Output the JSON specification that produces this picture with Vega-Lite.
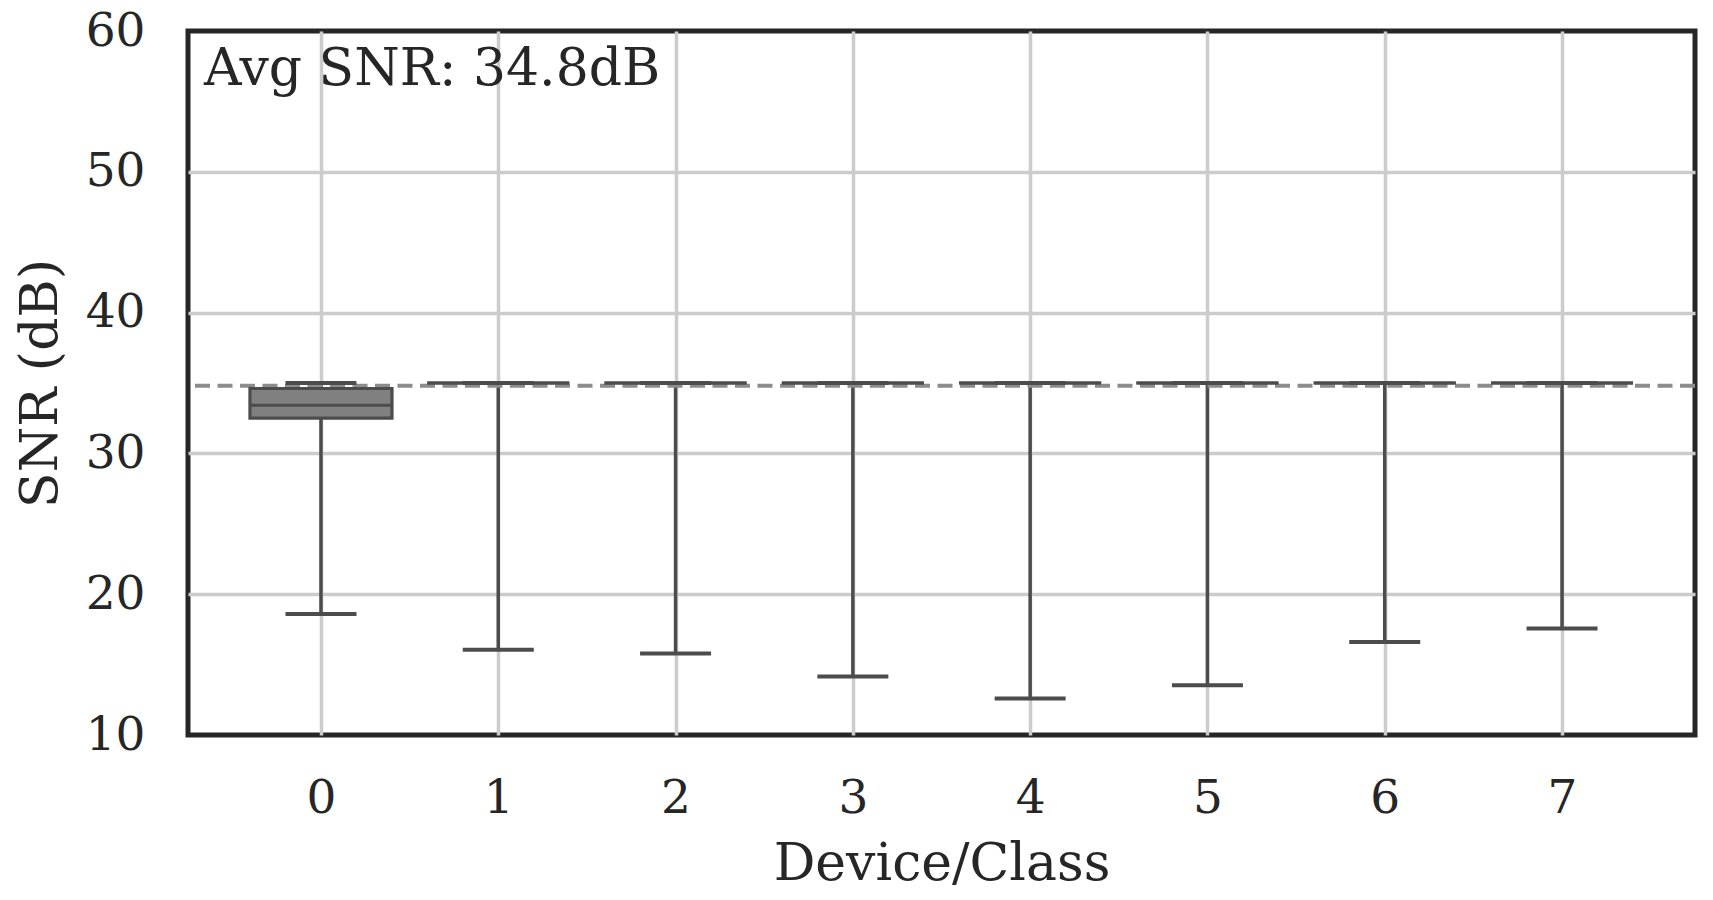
{
  "$schema": "https://vega.github.io/schema/vega-lite/v6.json",
  "width": 1507,
  "height": 704,
  "autosize": {"type": "none"},
  "padding": {"left": 188, "top": 31, "right": 18, "bottom": 165},
  "background": "white",
  "config": {
    "font": "DejaVu Serif",
    "view": {"stroke": "#262626", "strokeWidth": 5},
    "axis": {
      "grid": true,
      "gridColor": "#cccccc",
      "gridWidth": 3.5,
      "domain": false,
      "ticks": false,
      "tickSize": 0,
      "labelFont": "DejaVu Serif",
      "labelFontSize": 47,
      "labelColor": "#262626",
      "titleFont": "DejaVu Serif",
      "titleFontSize": 52,
      "titleFontWeight": "normal",
      "titleColor": "#262626"
    }
  },
  "datasets": {
    "stats": [
      {"device": "0", "min": 18.59, "q1": 32.5, "median": 33.42, "q3": 34.61, "max": 35.0},
      {"device": "1", "min": 16.06, "q1": 35.0, "median": 35.0, "q3": 35.0, "max": 35.0},
      {"device": "2", "min": 15.79, "q1": 35.0, "median": 35.0, "q3": 35.0, "max": 35.0},
      {"device": "3", "min": 14.16, "q1": 35.0, "median": 35.0, "q3": 35.0, "max": 35.0},
      {"device": "4", "min": 12.6, "q1": 35.0, "median": 35.0, "q3": 35.0, "max": 35.0},
      {"device": "5", "min": 13.54, "q1": 35.0, "median": 35.0, "q3": 35.0, "max": 35.0},
      {"device": "6", "min": 16.6, "q1": 35.0, "median": 35.0, "q3": 35.0, "max": 35.0},
      {"device": "7", "min": 17.57, "q1": 35.0, "median": 35.0, "q3": 35.0, "max": 35.0}
    ],
    "avg": [{"avg": 34.8, "label": "Avg SNR: 34.8dB", "xpos": 0.0106, "ypos": 56.17}]
  },
  "layer": [
    {
      "layer": [
        {
          "data": {"name": "stats"},
          "mark": {"type": "rule", "color": "#4c4c4c", "strokeWidth": 3.5},
          "encoding": {
            "x": {
              "field": "device",
              "type": "ordinal",
              "scale": {"type": "point", "padding": 0.75},
              "axis": {"labelAngle": 0, "title": "Device/Class", "labelPadding": 40, "titlePadding": 17}
            },
            "y": {
              "field": "min",
              "type": "quantitative",
              "scale": {"domain": [10, 60], "nice": false, "zero": false},
              "axis": {
                "values": [10, 20, 30, 40, 50, 60],
                "title": "SNR (dB)",
                "labelPadding": 43,
                "titlePadding": 18,
                "gridOpacity": {"condition": {"test": "datum.value === 10 || datum.value === 60", "value": 0}, "value": 1}
              }
            },
            "y2": {"field": "max"}
          }
        },
        {
          "data": {"name": "avg"},
          "mark": {"type": "rule", "color": "#8c8c8c", "strokeWidth": 4, "strokeDash": [15, 7.5]},
          "encoding": {"y": {"field": "avg", "type": "quantitative"}}
        },
        {
          "data": {"name": "stats"},
          "mark": {"type": "bar", "size": 142, "fill": "#808080", "stroke": "#4c4c4c", "strokeWidth": 3.2},
          "encoding": {
            "x": {"field": "device", "type": "ordinal"},
            "y": {"field": "q1", "type": "quantitative"},
            "y2": {"field": "q3"}
          }
        },
        {
          "data": {"name": "stats"},
          "mark": {"type": "tick", "size": 142, "thickness": 3.2, "color": "#4c4c4c", "opacity": 1},
          "encoding": {
            "x": {"field": "device", "type": "ordinal"},
            "y": {"field": "median", "type": "quantitative"}
          }
        },
        {
          "data": {"name": "stats"},
          "mark": {"type": "tick", "size": 71, "thickness": 4, "color": "#4c4c4c", "opacity": 1},
          "encoding": {
            "x": {"field": "device", "type": "ordinal"},
            "y": {"field": "min", "type": "quantitative"}
          }
        },
        {
          "data": {"name": "stats"},
          "mark": {"type": "tick", "size": 71, "thickness": 4, "color": "#4c4c4c", "opacity": 1},
          "encoding": {
            "x": {"field": "device", "type": "ordinal"},
            "y": {"field": "max", "type": "quantitative"}
          }
        }
      ]
    },
    {
      "data": {"name": "avg"},
      "mark": {"type": "text", "align": "left", "baseline": "alphabetic", "fontSize": 52, "font": "DejaVu Serif", "color": "#262626"},
      "encoding": {
        "x": {"field": "xpos", "type": "quantitative", "scale": {"domain": [0, 1], "nice": false, "zero": false}, "axis": null},
        "y": {"field": "ypos", "type": "quantitative"},
        "text": {"field": "label"}
      }
    }
  ],
  "resolve": {"scale": {"x": "independent"}}
}
